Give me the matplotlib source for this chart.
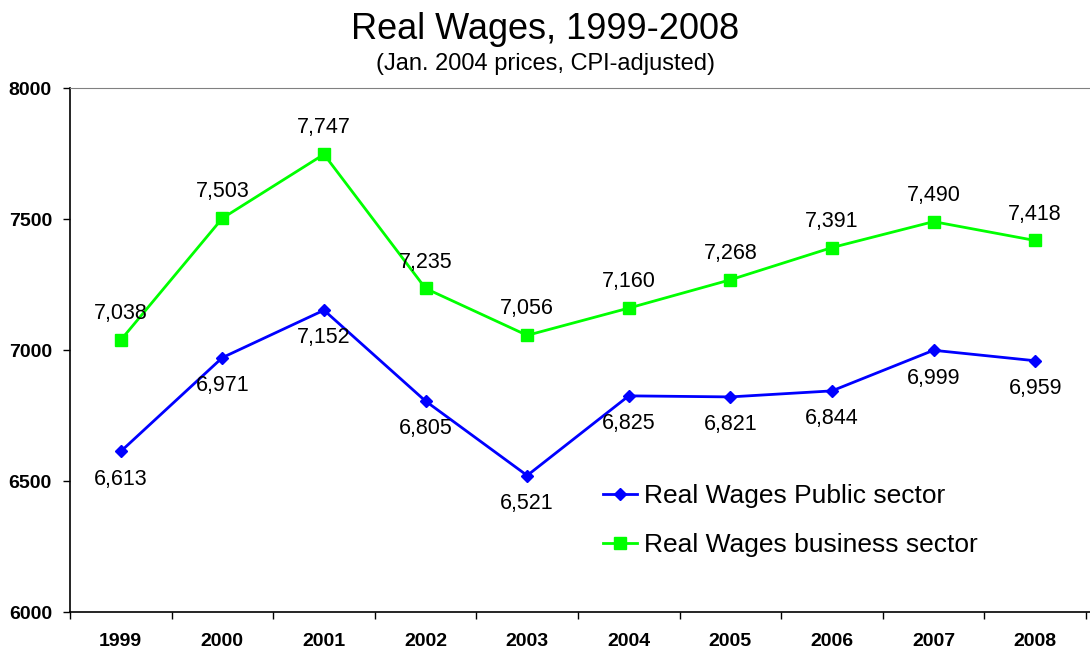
import numpy as np
import matplotlib.pyplot as plt

plt.rcParams['font.family'] = ['Liberation Sans', 'DejaVu Sans']

# Real wages, Jan. 2004 prices
years = ['1999', '2000', '2001', '2002', '2003', '2004', '2005', '2006', '2007', '2008']
public_sector = [6613, 6971, 7152, 6805, 6521, 6825, 6821, 6844, 6999, 6959]
business_sector = [7038, 7503, 7747, 7235, 7056, 7160, 7268, 7391, 7490, 7418]

x = np.arange(len(years))

fig = plt.figure(figsize=(10.9, 6.51), dpi=100)
ax = fig.add_axes([0.0642, 0.0599, 0.9358, 0.8049])

ax.plot(x, public_sector, color='#0000FF', lw=2, marker='D', ms=6.5,
        label='Real Wages Public sector')
ax.plot(x, business_sector, color='#00FF00', lw=2, marker='s', ms=8.5,
        label='Real Wages business sector')

# value labels: business above, public below
for xi, v in zip(x, business_sector):
    ax.annotate(f'{v:,}', (xi, v), xytext=(0, 19), textcoords='offset points',
                ha='center', va='center', fontsize=15.5)
for xi, v in zip(x, public_sector):
    ax.annotate(f'{v:,}', (xi, v), xytext=(0, -20), textcoords='offset points',
                ha='center', va='center', fontsize=15.5)

ax.set_xlim(-0.5, 9.54)
ax.set_ylim(6000, 8000)
ax.set_yticks([6000, 6500, 7000, 7500, 8000])
ax.set_yticklabels(['6000', '6500', '7000', '7500', '8000'], fontsize=14, fontweight='bold')

# category labels centred, tick marks between categories
ax.set_xticks(x)
ax.set_xticklabels(years, fontsize=14, fontweight='bold')
ax.set_xticks(np.arange(-0.5, 10, 1), minor=True)
ax.tick_params(axis='x', which='major', length=0, pad=15)
ax.tick_params(axis='x', which='minor', length=5, direction='out', width=1)
ax.tick_params(axis='y', length=5, direction='out', width=1, pad=8)

ax.spines['right'].set_visible(False)
ax.spines['top'].set_color('#808080')
ax.spines['left'].set_linewidth(1.2)
ax.spines['bottom'].set_linewidth(1.2)

ax.legend(loc='upper left', bbox_to_anchor=(0.512, 0.264), frameon=False,
          fontsize=19, handlelength=1.3, handletextpad=0.25, labelspacing=0.95,
          borderaxespad=0)

fig.text(0.5, 0.955, 'Real Wages, 1999-2008', ha='center', va='center', fontsize=26)
fig.text(0.5, 0.902, '(Jan. 2004 prices, CPI-adjusted)', ha='center', va='center', fontsize=17)

fig.savefig('out.png', dpi=100)
